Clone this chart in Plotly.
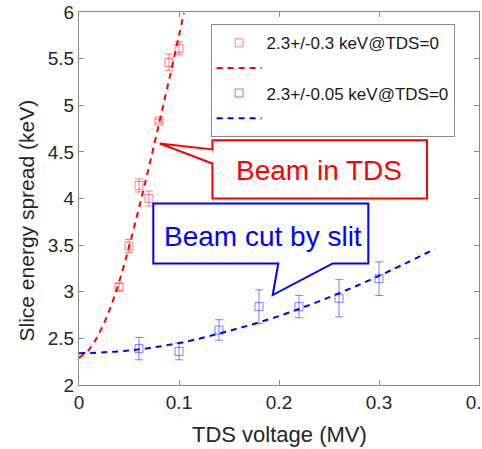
import plotly.graph_objects as go

red_x = [0.04, 0.05, 0.06, 0.07, 0.08, 0.09, 0.10]
red_y = [3.05, 3.49, 4.14, 4.00, 4.83, 5.46, 5.61]
red_err = [0.04, 0.07, 0.07, 0.08, 0.02, 0.09, 0.07]

blue_x = [0.06, 0.10, 0.14, 0.18, 0.22, 0.26, 0.30]
blue_y = [2.39, 2.36, 2.59, 2.84, 2.84, 2.93, 3.14]
blue_err = [0.12, 0.09, 0.11, 0.18, 0.12, 0.20, 0.18]

# Fit curves
red_fit_x = [0, 0.01, 0.02, 0.03, 0.04, 0.05, 0.06, 0.07, 0.08, 0.09, 0.10, 0.105]
red_fit_y = [2.29, 2.38, 2.55, 2.79, 3.10, 3.48, 3.90, 4.34, 4.80, 5.27, 5.75, 5.99]
blue_fit_x = [0, 0.05, 0.10, 0.15, 0.20, 0.25, 0.30, 0.356]
blue_fit_y = [2.34, 2.37, 2.45, 2.58, 2.74, 2.94, 3.17, 3.46]

red_label = "2.3+/-0.3 keV@TDS=0"
blue_label = "2.3+/-0.05 keV@TDS=0"
x_title = "TDS voltage (MV)"
y_title = "Slice energy spread (keV)"

FONT = "Liberation Sans, Arial, Helvetica, sans-serif"
TXT = "#262626"
AX = "#8a8a8a"
RED_T = "rgba(255,0,0,0.5)"
BLUE_T = "rgba(0,0,255,0.5)"

fig = go.Figure()
fig.add_trace(go.Scatter(
    x=red_x, y=red_y, mode="markers", name=red_label,
    marker=dict(symbol="square-open", size=8, color=RED_T, line=dict(width=1, color=RED_T)),
    error_y=dict(type="data", array=red_err, color=RED_T, thickness=1, width=4),
))
fig.add_trace(go.Scatter(
    x=red_fit_x, y=red_fit_y, mode="lines", name="&nbsp;", line_shape="spline",
    line=dict(color="#ff0000", width=2, dash="6px,5px"),
))
fig.add_trace(go.Scatter(
    x=blue_x, y=blue_y, mode="markers", name=blue_label,
    marker=dict(symbol="square-open", size=8, color=BLUE_T, line=dict(width=1, color=BLUE_T)),
    error_y=dict(type="data", array=blue_err, color=BLUE_T, thickness=1, width=4),
))
fig.add_trace(go.Scatter(
    x=blue_fit_x, y=blue_fit_y, mode="lines", name="&nbsp;", line_shape="spline",
    line=dict(color="#0000ff", width=2, dash="6px,5px"),
))

axis_common = dict(
    showgrid=False, zeroline=False, showline=True, linecolor=AX, linewidth=1,
    mirror="ticks", ticks="inside", ticklen=5, tickcolor=AX, tickwidth=1,
    tickfont=dict(family=FONT, size=19, color=TXT), ticklabeloverflow="allow",
    automargin=False,
)
fig.update_xaxes(range=[0, 0.4], tickmode="linear", tick0=0, dtick=0.1, **axis_common)
fig.update_yaxes(range=[2, 6], tickmode="linear", tick0=2, dtick=0.5, **axis_common)

# Callout boxes (annotation graphics)
red_box = ("M 0.1334,4.626 L 0.348,4.626 L 0.348,4.001 L 0.1334,4.001 "
           "L 0.1334,4.376 L 0.0807,4.590 L 0.1334,4.526 Z")
blue_box = ("M 0.0743,3.947 L 0.2893,3.947 L 0.2893,3.304 L 0.2537,3.304 "
            "L 0.1937,2.965 L 0.1993,3.304 L 0.0743,3.304 Z")
fig.add_shape(type="path", path=red_box, xref="x", yref="y",
              line=dict(color="#ff0000", width=2), fillcolor="white", layer="above")
fig.add_shape(type="path", path=blue_box, xref="x", yref="y",
              line=dict(color="#0000ff", width=2), fillcolor="white", layer="above")

fig.add_annotation(x=0.2404, y=4.30, xref="x", yref="y", text="Beam in TDS",
                   showarrow=False, font=dict(family=FONT, size=28, color="#ff0000"),
                   xanchor="center", yanchor="middle")
fig.add_annotation(x=0.1835, y=3.59, xref="x", yref="y", text="Beam cut by slit",
                   showarrow=False, font=dict(family=FONT, size=28, color="#0000ff"),
                   xanchor="center", yanchor="middle")

# Axis titles
fig.add_annotation(x=0.5, y=-0.134, xref="paper", yref="paper", text=x_title,
                   showarrow=False, font=dict(family=FONT, size=22, color=TXT),
                   xanchor="center", yanchor="middle")
fig.add_annotation(x=-0.131, y=0.44, xref="paper", yref="paper", text=y_title,
                   textangle=-90, showarrow=False, font=dict(family=FONT, size=21, color=TXT),
                   xanchor="center", yanchor="middle")

fig.update_layout(
    width=482, height=449,
    margin=dict(l=79, r=3, t=12, b=64, autoexpand=False),
    paper_bgcolor="white", plot_bgcolor="white",
    font=dict(family=FONT, color=TXT),
    showlegend=True,
    legend=dict(
        x=0.329, y=0.967, xanchor="left", yanchor="top",
        bgcolor="white", bordercolor="#8a8a8a", borderwidth=1,
        font=dict(family=FONT, size=17, color="#1a1a1a"),
        itemwidth=45, traceorder="normal",
    ),
)

fig.write_html("out.html")
